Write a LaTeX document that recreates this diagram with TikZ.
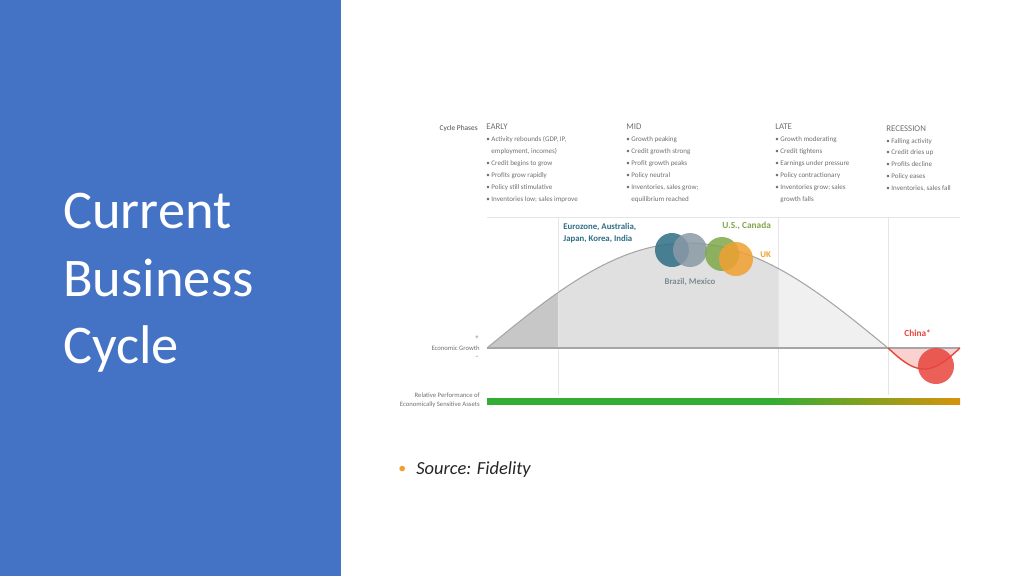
\documentclass[tikz,border=0pt]{standalone}
\usepackage{fontspec}
\setmainfont{Carlito}
\usetikzlibrary{positioning}
\definecolor{slide}{HTML}{4472C4}
\definecolor{teal}{HTML}{2E6E85}
\definecolor{greyb}{HTML}{8A9AA6}
\definecolor{greenb}{HTML}{7FA84A}
\definecolor{orangeb}{HTML}{F0A030}
\definecolor{redb}{HTML}{E8453C}
\definecolor{phtext}{HTML}{707070}
\pgfdeclarehorizontalshading{perf}{100bp}{color(0bp)=(green!60!black!80);color(55bp)=(green!60!black!80);color(80bp)=(orange!90!yellow);color(95bp)=(red!85);color(100bp)=(green!40!black!60)}
\tikzset{
  phase/.style={anchor=north west, align=left, text=phtext, font=\fontsize{4}{6.8}\selectfont, inner sep=0pt},
  side/.style={anchor=east, align=right, text=phtext, font=\fontsize{3.8}{5}\selectfont, inner sep=0pt},
  bubble/.style={fill=#1, fill opacity=0.85, draw=none},
  divider/.style={draw=black!10, line width=0.4pt}
}
\newcommand{\bl}{\textbullet~}
\newcommand{\ct}{\phantom{\textbullet~}}
\begin{document}
\begin{tikzpicture}[x=0.02cm, y=-0.02cm]
  \useasboundingbox (0,0) rectangle (1024,576);
  \fill[white] (0,0) rectangle (1024,576);
  \fill[slide] (0,0) rectangle (341,576);
  \node[anchor=north west, align=left, text=white, inner sep=0pt, font=\fontsize{31}{38.5}\selectfont] (title) at (63,193) {Current\\Business\\Cycle};

  % phases
  \node[side, font=\fontsize{4.2}{5}\selectfont, text=black!70] (cyc) at (478,129) {Cycle Phases};
  \node[phase] (early) at (486,124) {{\fontsize{5}{6.8}\selectfont EARLY}\\\bl Activity rebounds (GDP, IP,\\\ct employment, incomes)\\\bl Credit begins to grow\\\bl Profits grow rapidly\\\bl Policy still stimulative\\\bl Inventories low; sales improve};
  \node[phase] (mid) at (626,124) {{\fontsize{5}{6.8}\selectfont MID}\\\bl Growth peaking\\\bl Credit growth strong\\\bl Profit growth peaks\\\bl Policy neutral\\\bl Inventories, sales grow;\\\ct equilibrium reached};
  \node[phase] (late) at (775,124) {{\fontsize{5}{6.8}\selectfont LATE}\\\bl Growth moderating\\\bl Credit tightens\\\bl Earnings under pressure\\\bl Policy contractionary\\\bl Inventories grow; sales\\\ct growth falls};
  \node[phase] (rec) at (886,125) {{\fontsize{5}{6.8}\selectfont RECESSION}\\\bl Falling activity\\\bl Credit dries up\\\bl Profits decline\\\bl Policy eases\\\bl Inventories, sales fall};

  % curve areas
  \begin{scope}
    \clip (487,348) -- plot[domain=487:888, samples=60] (\x,{348-105*sin(0.4489*(\x-487))}) -- cycle;
    \fill[black!22] (487,200) rectangle (558,348);
    \fill[black!12] (558,200) rectangle (778,348);
    \fill[black!6] (778,200) rectangle (888,348);
  \end{scope}
  \fill[redb!25] (888,348) -- plot[domain=888:960, samples=30] (\x,{348+21*sin(2.5*(\x-888))}) -- cycle;
  \draw[divider] (487,217) -- (960,217);
  \foreach \vx in {558,778,888} \draw[divider] (\vx,217) -- (\vx,395);
  \draw[black!35, line width=0.6pt] plot[domain=487:888, samples=60] (\x,{348-105*sin(0.4489*(\x-487))});
  \draw[black!35, line width=0.6pt] (487,348) -- (960,348);
  \draw[redb, line width=0.8pt] plot[domain=888:960, samples=30] (\x,{348+21*sin(2.5*(\x-888))});

  % bubbles
  \fill[bubble=teal] (672,250) circle (17);
  \fill[bubble=greyb] (690,250) circle (17);
  \fill[bubble=greenb] (722,254) circle (17);
  \fill[bubble=orangeb] (736,259) circle (17);
  \fill[bubble=redb] (936,366) circle (18);

  \node[anchor=north west, align=left, text=teal, inner sep=0pt, font=\fontsize{5}{6.6}\selectfont\bfseries] (euro) at (563,223) {Eurozone, Australia,\\Japan, Korea, India};
  \node[anchor=west, text=greenb, inner sep=0pt, font=\fontsize{5.3}{6}\selectfont\bfseries] (us) at (722,226) {U.S., Canada};
  \node[anchor=west, text=orangeb, inner sep=0pt, font=\fontsize{5}{6}\selectfont\bfseries] (uk) at (760,255) {UK};
  \node[text=greyb!90!black, inner sep=0pt, font=\fontsize{5}{6}\selectfont\bfseries] (brazil) at (690,282) {Brazil, Mexico};
  \node[anchor=west, text=redb, inner sep=0pt, font=\fontsize{5.3}{6}\selectfont\bfseries] (china) at (904,333) {China*};

  % side labels
  \node[side] (plus) at (479,338) {+};
  \node[side] (growth) at (480,348) {Economic Growth};
  \node[side] (minus) at (479,357) {--};
  \node[side] (perfl) at (480,400) {Relative Performance of\\Economically Sensitive Assets};
  \shade[shading=perf] (487,398) rectangle (960,404);

  % source
  \node[anchor=west, text=orangeb, inner sep=0pt, font=\fontsize{9}{10}\selectfont] (dot) at (398,470) {\textbullet};
  \node[anchor=west, inner sep=0pt, font=\fontsize{10.5}{12}\selectfont\itshape, text=black!85] (src) at (416,470) {Source: Fidelity};
\end{tikzpicture}
\end{document}
